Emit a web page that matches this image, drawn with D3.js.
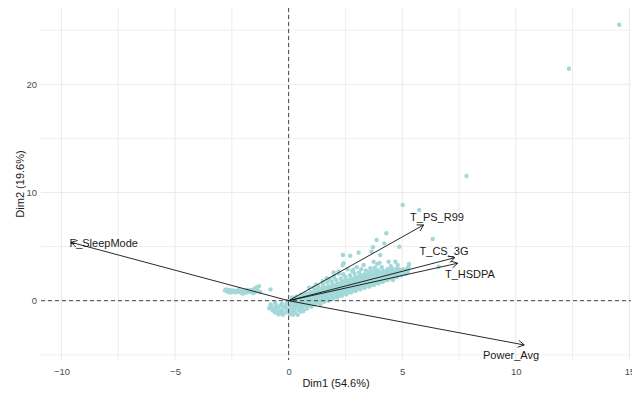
<!DOCTYPE html>
<html><head><meta charset="utf-8">
<script src="https://cdn.jsdelivr.net/npm/d3@7"></script>
<style>body{margin:0;background:#fff}svg{display:block;font-family:"Liberation Sans",Arial,sans-serif}</style>
</head><body><svg id="c" width="632" height="394"></svg>
<script>
// Individuals (Dim1, Dim2)
const leftArm = [
[-2.8,0.95],[-2.7,0.85],[-2.6,1.0],[-2.5,0.8],[-2.45,0.95],[-2.35,0.75],[-2.3,0.9],[-2.2,0.8],[-2.1,0.95],[-2.05,0.7],
[-1.95,0.85],[-1.85,0.75],[-1.8,1.0],[-1.7,0.8],[-1.6,0.9],[-1.55,0.7],[-1.5,1.1],[-1.45,0.85],[-1.4,1.25],[-1.35,0.95],
[-1.3,1.35],[-1.25,0.8],[-0.8,1.05],[-2.6,0.75],[-2.2,1.05],[-1.9,0.95],[-2.75,1.05],[-2.0,0.65],[-1.65,1.0]
];
const belowOrigin = [
[-0.75,-0.5],[-0.65,-0.8],[-0.55,-0.4],[-0.5,-1.0],[-0.45,-0.65],[-0.4,-1.2],[-0.3,-0.3],[-0.3,-0.9],[-0.2,-0.6],[-0.15,-1.1],
[-0.1,-0.3],[0.0,-0.8],[0.05,-1.25],[0.1,-0.5],[0.2,-0.9],[0.25,-0.2],[0.3,-1.1],[0.35,-0.6],[0.45,-0.85],[0.5,-0.35],
[0.6,-0.7],[-0.6,-0.2],[-0.25,-1.3],[0.15,-0.15],[0.4,-1.3],[0.7,-0.4],[0.8,-0.75],[0.9,-0.3],[1.0,-0.55],[-0.05,-0.05],
[1.2,-0.2],[1.4,-0.4],[1.6,0.0],[-0.85,-0.7],[-0.6,-1.1],
[-0.7,-0.9],[-0.55,-0.6],[-0.35,-0.45],[-0.35,-1.05],[-0.1,-0.7],[-0.05,-1.0],[0.1,-1.1],[0.25,-0.7],[0.3,-0.4],[0.55,-1.0],
[0.65,-0.95],[0.75,-0.2],[0.85,-0.5],[-0.8,-0.35],[-0.45,-1.25],[0.2,-1.3]
];
const mainBand = [
[0.15,-0.6],[0.15,-0.3],[0.15,0.05],[0.15,0.3],
[0.35,-0.5],[0.35,-0.2],[0.35,0.1],[0.35,0.4],
[0.55,-0.55],[0.55,-0.25],[0.55,0.05],[0.55,0.3],[0.55,0.55],
[0.75,-0.45],[0.75,-0.15],[0.75,0.15],[0.75,0.4],[0.75,0.7],
[0.95,-0.4],[0.95,-0.1],[0.95,0.2],[0.95,0.5],[0.95,0.8],
[1.15,-0.35],[1.15,-0.05],[1.15,0.25],[1.15,0.55],[1.15,0.85],[1.15,1.0],
[1.35,-0.2],[1.35,0.1],[1.35,0.35],[1.35,0.6],[1.35,0.9],[1.35,1.1],
[1.55,-0.1],[1.55,0.2],[1.55,0.45],[1.55,0.7],[1.55,1.0],[1.55,1.25],
[1.75,0.0],[1.75,0.3],[1.75,0.55],[1.75,0.8],[1.75,1.1],[1.75,1.35],
[1.95,0.15],[1.95,0.4],[1.95,0.65],[1.95,0.9],[1.95,1.2],[1.95,1.45],
[2.15,0.3],[2.15,0.55],[2.15,0.8],[2.15,1.05],[2.15,1.3],[2.15,1.6],
[2.35,0.45],[2.35,0.7],[2.35,0.95],[2.35,1.2],[2.35,1.45],[2.35,1.75],
[2.55,0.6],[2.55,0.85],[2.55,1.1],[2.55,1.35],[2.55,1.6],[2.55,1.9],
[2.75,0.75],[2.75,1.0],[2.75,1.25],[2.75,1.5],[2.75,1.75],[2.75,2.05],
[2.95,0.9],[2.95,1.15],[2.95,1.4],[2.95,1.65],[2.95,1.9],[2.95,2.15],
[3.15,1.05],[3.15,1.3],[3.15,1.55],[3.15,1.8],[3.15,2.05],[3.15,2.3],
[3.35,1.2],[3.35,1.45],[3.35,1.7],[3.35,1.95],[3.35,2.2],[3.35,2.45],
[3.55,1.3],[3.55,1.55],[3.55,1.8],[3.55,2.05],[3.55,2.3],[3.55,2.6],
[3.75,1.45],[3.75,1.7],[3.75,1.95],[3.75,2.2],[3.75,2.45],[3.75,2.7],
[3.95,1.6],[3.95,1.85],[3.95,2.1],[3.95,2.35],[3.95,2.6],[3.95,2.8],
[4.15,1.75],[4.15,2.0],[4.15,2.25],[4.15,2.5],[4.15,2.75],
[4.35,1.9],[4.35,2.15],[4.35,2.4],[4.35,2.65],[4.35,2.9],
[4.55,2.05],[4.55,2.3],[4.55,2.55],[4.55,2.8],
[4.75,2.2],[4.75,2.45],[4.75,2.7],[4.75,2.95],
[4.95,2.35],[4.95,2.6],[4.95,2.85],
[5.15,2.5],[5.15,2.8],
[0.25,-0.45],[0.25,-0.1],[0.25,0.2],
[0.45,-0.35],[0.45,0.0],[0.45,0.25],
[0.65,-0.4],[0.65,-0.05],[0.65,0.25],[0.65,0.5],
[0.85,-0.3],[0.85,0.0],[0.85,0.3],[0.85,0.6],
[1.05,-0.2],[1.05,0.1],[1.05,0.4],[1.05,0.7],
[1.25,-0.1],[1.25,0.2],[1.25,0.5],[1.25,0.75],[1.25,1.0],
[1.45,0.0],[1.45,0.3],[1.45,0.55],[1.45,0.8],[1.45,1.1],
[1.65,0.1],[1.65,0.4],[1.65,0.65],[1.65,0.95],[1.65,1.2],
[1.85,0.25],[1.85,0.5],[1.85,0.75],[1.85,1.0],[1.85,1.3],
[2.05,0.35],[2.05,0.65],[2.05,0.9],[2.05,1.15],[2.05,1.45],
[2.25,0.5],[2.25,0.8],[2.25,1.05],[2.25,1.3],[2.25,1.55],
[2.45,0.65],[2.45,0.95],[2.45,1.2],[2.45,1.5],[2.45,1.8],
[2.65,0.8],[2.65,1.1],[2.65,1.35],[2.65,1.6],[2.65,1.9],
[2.85,0.95],[2.85,1.2],[2.85,1.5],[2.85,1.75],[2.85,2.0],
[3.05,1.1],[3.05,1.4],[3.05,1.65],[3.05,1.95],[3.05,2.2],
[3.25,1.25],[3.25,1.5],[3.25,1.8],[3.25,2.1],[3.25,2.35],
[3.45,1.4],[3.45,1.65],[3.45,1.9],[3.45,2.15],[3.45,2.4],
[3.65,1.5],[3.65,1.75],[3.65,2.0],[3.65,2.3],[3.65,2.55],
[3.85,1.65],[3.85,1.9],[3.85,2.15],[3.85,2.45],[3.85,2.7],
[4.05,1.8],[4.05,2.05],[4.05,2.3],[4.05,2.55],
[4.25,1.95],[4.25,2.2],[4.25,2.45],[4.25,2.7],
[4.45,2.1],[4.45,2.35],[4.45,2.6],[4.45,2.85],
[4.65,2.25],[4.65,2.5],[4.65,2.75],
[4.85,2.4],[4.85,2.65],[4.85,2.9],
[5.05,2.55],[5.05,2.9],
[5.25,2.65],[5.25,3.0]
];
const upperFuzz = [
[1.5,1.5],[1.7,1.7],[1.9,1.75],[2.1,1.9],[2.3,2.05],[2.5,2.2],[2.4,2.45],[2.7,2.35],[2.9,2.5],[3.1,2.6],[1.3,1.35],[1.1,1.2],
[3.4,2.8],[3.6,2.95],[2.0,2.15],[2.2,2.5],[2.8,2.75],[3.2,2.9],[4.1,3.1],[4.5,3.2],[4.8,3.3],[3.8,3.05],[4.0,3.5],[4.7,3.6],[5.3,3.4],
[5.02,8.85],[5.75,8.38],[4.30,6.23],[6.34,5.70],[3.71,4.94],[3.08,4.44],[2.71,4.16],[4.03,4.22],[4.87,4.99],[4.21,5.30],
[3.87,5.61],[3.65,4.53],[3.74,3.60],[4.55,2.99],[5.28,3.14],[6.60,3.14],[4.96,2.68],[4.69,2.22],[2.42,3.46],[1.98,2.62],
[2.38,3.30],[2.84,2.84],[4.16,2.68],[5.16,2.59],[2.39,4.22],[4.59,1.91],[1.67,2.07],
[1.5,1.8],[1.2,1.5],[2.0,2.3],[2.6,2.9],[3.0,3.1],[3.3,3.3],[3.6,3.0],[2.2,2.7],[1.8,2.0],[0.9,1.2],[3.9,3.4],[4.4,3.6]
];
const outliers = [[7.83,11.52],[12.34,21.44],[14.55,25.5]];

const individuals = [].concat(leftArm, belowOrigin, mainBand, upperFuzz, outliers);
const indX = individuals.map(d => d[0]);
const indY = individuals.map(d => d[1]);

// Variables (arrows)
const varNames = ["F_SleepMode", "T_PS_R99", "T_CS_3G", "T_HSDPA", "Power_Avg"];
const varX = [-9.58, 5.94, 7.31, 7.44, 10.37];
const varY = [5.40, 7.00, 3.97, 3.46, -4.09];
const labelX = [-8.14, 6.53, 6.84, 7.98, 9.79];
const labelY = [5.31, 7.74, 4.59, 2.47, -5.02];

const xTicks = [-10, -5, 0, 5, 10, 15];
const yTicks = [0, 10, 20];
const xMinor = [-7.5, -2.5, 2.5, 7.5, 12.5];
const yMinor = [-5, 5, 15, 25];
const xTitle = "Dim1 (54.6%)";
const yTitle = "Dim2 (19.6%)";

const svg = d3.select("#c");
const P = {l: 41, r: 631, t: 8, b: 360};
const x = d3.scaleLinear().domain([-10.9, 15.07]).range([P.l, P.r]);
const y = d3.scaleLinear().domain([-5.48, 27.05]).range([P.b, P.t]);

// grid
const g = svg.append("g");
g.selectAll(".vm").data(xMinor).join("line").attr("x1", d => x(d)).attr("x2", d => x(d)).attr("y1", P.t).attr("y2", P.b)
  .attr("stroke", "#efefef").attr("stroke-width", 1);
g.selectAll(".hm").data(yMinor).join("line").attr("y1", d => y(d)).attr("y2", d => y(d)).attr("x1", P.l).attr("x2", P.r)
  .attr("stroke", "#efefef").attr("stroke-width", 1);
g.selectAll(".vM").data(xTicks).join("line").attr("x1", d => x(d)).attr("x2", d => x(d)).attr("y1", P.t).attr("y2", P.b)
  .attr("stroke", "#ebebeb").attr("stroke-width", 1.1);
g.selectAll(".hM").data(yTicks).join("line").attr("y1", d => y(d)).attr("y2", d => y(d)).attr("x1", P.l).attr("x2", P.r)
  .attr("stroke", "#ebebeb").attr("stroke-width", 1.1);

// axes via d3 axis
const xAxis = svg.append("g").attr("transform", `translate(0,${P.b + 2})`)
  .call(d3.axisBottom(x).tickValues(xTicks).tickSize(0).tickPadding(6));
const yAxis = svg.append("g").attr("transform", `translate(${P.l - 2},0)`)
  .call(d3.axisLeft(y).tickValues(yTicks).tickSize(0).tickPadding(2));
[xAxis, yAxis].forEach(a => {
  a.select(".domain").remove();
  a.selectAll("text").attr("fill", "#4d4d4d").style("font-size", "9.5px").style("font-family", "Liberation Sans, Arial, sans-serif");
});

// points
svg.append("g").selectAll("circle").data(indX).join("circle")
  .attr("cx", (d, i) => x(indX[i])).attr("cy", (d, i) => y(indY[i])).attr("r", 2.2)
  .attr("fill", "#a3d8d8");

// reference dashed lines
svg.append("line").attr("x1", P.l).attr("x2", P.r).attr("y1", y(0)).attr("y2", y(0))
  .attr("stroke", "#333").attr("stroke-width", 0.9).attr("stroke-dasharray", "4,3");
svg.append("line").attr("x1", x(0)).attr("x2", x(0)).attr("y1", P.t).attr("y2", P.b)
  .attr("stroke", "#333").attr("stroke-width", 0.9).attr("stroke-dasharray", "4,3");

// arrows
const ag = svg.append("g");
varNames.forEach((n, i) => {
  const x0 = x(0), y0 = y(0), x1 = x(varX[i]), y1 = y(varY[i]);
  ag.append("line").attr("x1", x0).attr("y1", y0).attr("x2", x1).attr("y2", y1)
    .attr("stroke", "#111").attr("stroke-width", 0.9);
  const ang = Math.atan2(y1 - y0, x1 - x0), L = 7, a = Math.PI / 6;
  const p = [[x1 - L * Math.cos(ang - a), y1 - L * Math.sin(ang - a)], [x1, y1], [x1 - L * Math.cos(ang + a), y1 - L * Math.sin(ang + a)]];
  ag.append("path").attr("d", d3.line()(p)).attr("fill", "none").attr("stroke", "#111").attr("stroke-width", 0.9);
  ag.append("text").attr("x", x(labelX[i])).attr("y", y(labelY[i])).attr("dy", "0.35em")
    .attr("text-anchor", "middle").attr("fill", "#1a1a1a").style("font-size", "11px").text(n);
});

// titles
svg.append("text").attr("x", (P.l + P.r) / 2).attr("y", 387).attr("text-anchor", "middle")
  .attr("fill", "#1a1a1a").style("font-size", "11px").text(xTitle);
svg.append("text").attr("transform", `translate(20,${(P.t + P.b) / 2}) rotate(-90)`).attr("text-anchor", "middle")
  .attr("dy", "0.35em").attr("fill", "#1a1a1a").style("font-size", "11px").text(yTitle);
</script></body></html>
